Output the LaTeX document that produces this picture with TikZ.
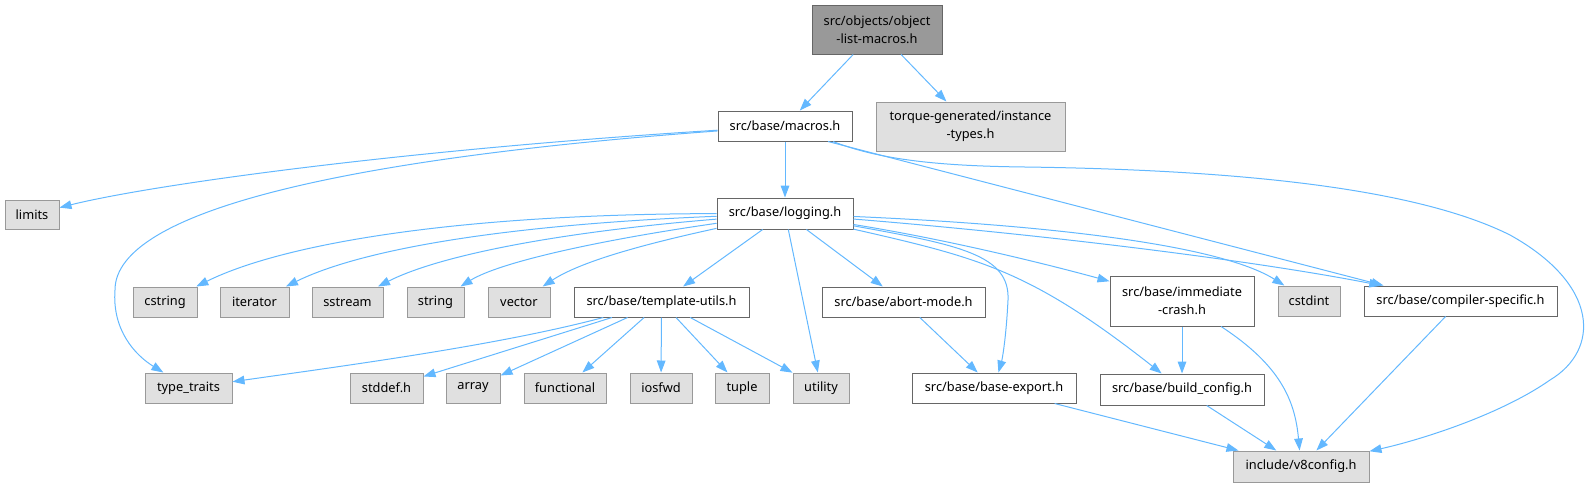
\documentclass[tikz,border=0pt]{standalone}
\usepackage{fontspec}
\setmainfont{Noto Sans}
\usetikzlibrary{arrows.meta}
\definecolor{edgec}{HTML}{63B8FF}
\definecolor{grayfill}{HTML}{E0E0E0}
\definecolor{grayline}{HTML}{999999}
\definecolor{darkline}{HTML}{666666}
\definecolor{rootfill}{HTML}{999999}
\tikzset{
  box/.style={draw=darkline, fill=white, line width=0.75pt, inner sep=0pt, align=center,
    font=\fontsize{9.6}{13.5}\selectfont, minimum height=30*0.75pt},
  sys/.style={box, draw=grayline, fill=grayfill},
  rootbox/.style={box, fill=rootfill},
  bw/.style={minimum width=#1*0.75pt},
  bh/.style={minimum height=#1*0.75pt},
  edge/.style={draw=edgec, line width=0.75pt, -{Triangle[length=9pt,width=6.5pt]}},
}
\begin{document}
\begin{tikzpicture}[x=0.75pt, y=-0.75pt]
\useasboundingbox (0,0) rectangle (1590,486);
% nodes
\node[rootbox, bw=130, bh=49] (root) at (877,29.5) {src/objects/object\\-list-macros.h};
\node[box, bw=134] (macros) at (785,126) {src/base/macros.h};
\node[sys, bw=189, bh=49] (torque) at (970.5,126.5) {torque-generated/instance\\-types.h};
\node[sys, bw=54, bh=29] (limits) at (32,214.5) {limits};
\node[box, bw=136, bh=31] (logging) at (785,213.5) {src/base/logging.h};
\node[sys, bw=64] (cstring) at (165,302) {cstring};
\node[sys, bw=69] (iterator) at (254.5,302) {iterator};
\node[sys, bw=71] (sstream) at (347.5,302) {sstream};
\node[sys, bw=57] (string) at (435.5,302) {string};
\node[sys, bw=62] (vector) at (519,302) {vector};
\node[box, bw=175] (tu) at (661.5,302) {src/base/template-utils.h};
\node[box, bw=163] (abort) at (903.5,302) {src/base/abort-mode.h};
\node[box, bw=144, bh=50] (imm) at (1182,301) {src/base/immediate\\-crash.h};
\node[sys, bw=62] (cstdint) at (1309,301) {cstdint};
\node[box, bw=193] (comp) at (1460.5,301) {src/base/compiler-specific.h};
\node[sys, bw=87] (tt) at (188.5,388) {type\_traits};
\node[sys, bw=73] (stddef) at (386.5,388) {stddef.h};
\node[sys, bw=54] (array) at (473,388) {array};
\node[sys, bw=82] (functional) at (565,388) {functional};
\node[sys, bw=62] (iosfwd) at (661,388) {iosfwd};
\node[sys, bw=54] (tuple) at (742,388) {tuple};
\node[sys, bw=56] (utility) at (821,388) {utility};
\node[box, bw=164] (bexp) at (994,388) {src/base/base-export.h};
\node[box, bw=164, bh=31] (bconf) at (1182,389.5) {src/base/build\_config.h};
\node[sys, bw=136, bh=31] (v8) at (1301,466.5) {include/v8config.h};
% edges
\draw[edge] (root) -- (macros);
\draw[edge] (root) -- (torque);
\draw[edge] (macros) .. controls (400,150) and (150,185) .. (limits);
\draw[edge] (macros) .. controls (350,158) and (115,210) .. (115,290) .. controls (112,330) and (135,355) .. (tt);
\draw[edge] (macros) -- (logging);
\draw[edge] ([xshift=43*0.75pt]macros.south) -- ([xshift=-77*0.75pt]comp.north);
\draw[edge] ([xshift=48*0.75pt]macros.south) .. controls (880,160) and (940,166) .. (1025,167)
  .. controls (1250,170) and (1420,190) .. (1510,235)
  .. controls (1600,285) and (1600,350) .. (1550,380)
  .. controls (1500,415) and (1420,440) .. (v8);
\draw[edge] (logging) .. controls (450,214) and (280,245) .. (cstring);
\draw[edge] (logging) .. controls (500,225) and (360,250) .. (iterator);
\draw[edge] (logging) .. controls (560,232) and (440,255) .. (sstream);
\draw[edge] (logging) .. controls (600,240) and (500,262) .. (string);
\draw[edge] (logging) .. controls (640,245) and (580,262) .. (vector);
\draw[edge] (logging) -- (tu);
\draw[edge] (logging) -- (utility);
\draw[edge] (logging) -- (abort);
\draw[edge] (logging) .. controls (960,245) and (1010,255) .. (1008,300) .. controls (1006,340) and (1002,360) .. (bexp);
\draw[edge] (logging) .. controls (980,258) and (1030,270) .. (bconf);
\draw[edge] (logging) .. controls (950,240) and (1050,265) .. (imm);
\draw[edge] (logging) .. controls (1050,225) and (1220,245) .. (cstdint);
\draw[edge] (logging) .. controls (1050,235) and (1256,261) .. (comp);
\draw[edge] (tu) .. controls (500,345) and (350,365) .. (tt);
\draw[edge] (tu) -- (stddef);
\draw[edge] (tu) -- (array);
\draw[edge] (tu) -- (functional);
\draw[edge] (tu) -- (iosfwd);
\draw[edge] (tu) -- (tuple);
\draw[edge] (tu) -- (utility);
\draw[edge] (abort) -- (bexp);
\draw[edge] (imm) -- (bconf);
\draw[edge] (imm) .. controls (1280,365) and (1295,400) .. (v8);
\draw[edge] (bexp) -- (v8);
\draw[edge] (bconf) -- (v8);
\draw[edge] (comp) -- (v8);
\end{tikzpicture}
\end{document}
